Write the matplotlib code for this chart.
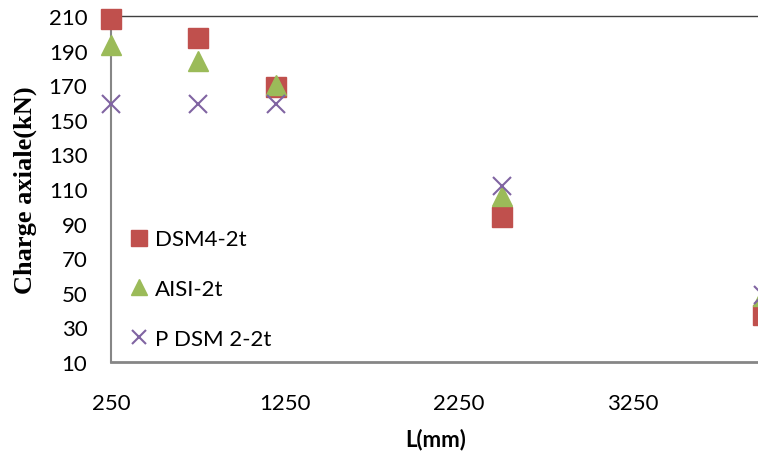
import matplotlib
matplotlib.use('Agg')
import matplotlib.pyplot as plt

# données
L = [250, 750, 1200, 2500, 4000]
dsm4 = [208, 197, 169, 94, 37]
aisi = [193, 184, 170, 106, 48]
pdsm = [159, 159, 159, 112, 49]
x_ticks = [250, 1250, 2250, 3250]
y_ticks = list(range(10, 211, 20))

fig = plt.figure(figsize=(7.58, 4.56), dpi=100)
ax = fig.add_axes([0.1464, 0.204, 0.918, 0.7588])

ax.plot(L, dsm4, 's', color='#C0504D', markersize=14, label='DSM4-2t', clip_on=False, zorder=3)
ax.plot(L, aisi, '^', color='#9BBB59', markersize=15, label='AISI-2t', clip_on=False, zorder=4)
ax.plot(L, pdsm, 'x', color='#8064A2', markersize=13, markeredgewidth=1.5, label='P DSM 2-2t', clip_on=False, zorder=5)

ax.set_xlim(250, 4250)
ax.set_ylim(10, 210)
ax.set_xticks(x_ticks)
ax.set_yticks(y_ticks)
ax.tick_params(length=0, labelsize=16)
ax.tick_params(axis='x', pad=22)
ax.tick_params(axis='y', pad=17)
for lab in ax.get_xticklabels() + ax.get_yticklabels():
    lab.set_family('Lato')

ax.spines['right'].set_visible(False)
ax.spines['left'].set_color('#868686')
ax.spines['left'].set_linewidth(1.5)
ax.spines['bottom'].set_color('#868686')
ax.spines['bottom'].set_linewidth(2)
ax.spines['top'].set_color('#404040')
ax.spines['top'].set_linewidth(1)

ax.set_ylabel('Charge axiale(kN)', family='Liberation Serif', fontweight='bold', fontsize=19)
ax.yaxis.set_label_coords(-0.106, 0.5)
ax.set_xlabel('L(mm)', family='Lato', fontweight='bold', fontsize=16)
ax.xaxis.set_label_coords(0.467, -0.19)

leg = ax.legend(loc='upper left', bbox_to_anchor=(0.012, 0.415), frameon=False,
                prop={'family': 'Lato', 'size': 16}, labelspacing=1.34,
                handlelength=0.8, handletextpad=0.3, borderpad=0, markerscale=0.8)

fig.savefig('out.png', dpi=100)
